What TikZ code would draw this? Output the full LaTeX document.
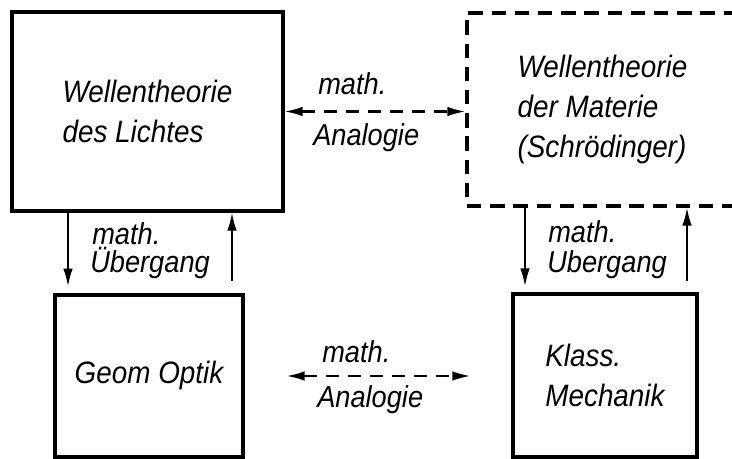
\documentclass[tikz,border=0pt]{standalone}
\usepackage{fontspec}
\setmainfont{Liberation Sans}[FakeStretch=0.9]
\usetikzlibrary{arrows.meta, positioning}

\begin{document}
\begin{tikzpicture}[
    x=0.025cm,
    y=-0.025cm,
    % === STYLES ===
    theory/.style={
        rectangle,
        draw=black,
        line width=2.3pt,
        inner sep=0pt,
        align=left,
        font=\itshape\fontsize{22}{28.5}\selectfont
    },
    dashtheory/.style={
        theory,
        dash pattern=on 0.36cm off 0.22cm
    },
    lbl/.style={
        inner sep=0pt,
        anchor=base west,
        font=\itshape\fontsize{21.5}{24}\selectfont
    },
    trans/.style={
        -{Latex[length=0.45cm, width=0.24cm]},
        line width=1.4pt
    },
    analog/.style={
        {Latex[length=0.45cm, width=0.24cm]}-{Latex[length=0.45cm, width=0.24cm]},
        line width=1.5pt,
        dash pattern=on 0.33cm off 0.22cm
    }
]

\useasboundingbox (0,0) rectangle (732,459);
\clip (0,0) rectangle (732,459);

% === THEORIES ===

% Wave theory of light
\node[theory, minimum width=6.775cm, minimum height=4.975cm] (licht) at (147.5,111.5)
    {Wellentheorie\\des Lichtes};

% Wave theory of matter
\node[dashtheory, minimum width=6.775cm, minimum height=4.825cm] (materie) at (602.5,109.5)
    {Wellentheorie\\der Materie\\(Schrödinger)};

% Geometrical optics
\node[theory, minimum width=4.7cm, minimum height=4.05cm] (optik) at (149,376)
    {Geom Optik};

% Classical mechanics
\node[theory, minimum width=4.6cm, minimum height=4.075cm] (mechanik) at (605,375.5)
    {Klass.\\Mechanik};

% === CONNECTIONS ===

% columns of the vertical arrows
\coordinate (ldown) at (68,0);
\coordinate (lup) at (232,0);
\coordinate (rdown) at (525,0);
\coordinate (rup) at (687,0);

% Analogies
\draw[analog] (licht.east) -- (licht.east -| materie.west);
\draw[analog, shorten <=1.05cm, shorten >=1.025cm] (optik.east) -- (optik.east -| mechanik.west);

% Transitions
\draw[trans, shorten >=0.17cm] (licht.south -| ldown) -- (optik.north -| ldown);
\draw[trans, shorten <=0.3cm] (optik.north -| lup) -- (licht.south -| lup);
\draw[trans, shorten >=0.15cm] (materie.south -| rdown) -- (mechanik.north -| rdown);
\draw[trans, shorten <=0.28cm] (mechanik.north -| rup) -- (materie.south -| rup);

% === LABELS ===
\node[lbl] (mtop) at (318,95) {math.};
\node[lbl] (atop) at (313,146) {Analogie};
\node[lbl] (mleft) at (92,245) {math.};
\node[lbl] (uleft) at (90,273) {Übergang};
\node[lbl] (mright) at (548,243) {math.};
\node[lbl] (uright) at (547,273) {Ubergang};
\node[lbl] (mbot) at (322,363) {math.};
\node[lbl] (abot) at (317,407) {Analogie};

\end{tikzpicture}
\end{document}
